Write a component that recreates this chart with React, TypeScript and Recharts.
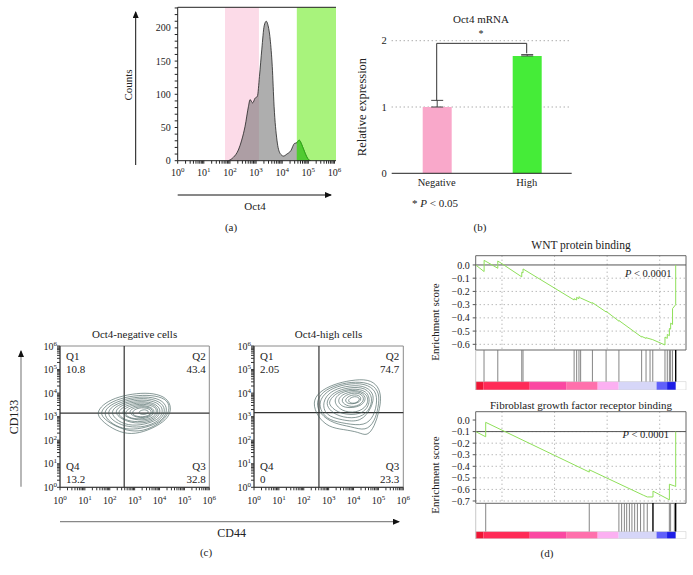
import React from 'react'
import {
  AreaChart, Area, BarChart, Bar, Cell, ErrorBar, LineChart, Line,
  ScatterChart, Scatter, XAxis, YAxis, CartesianGrid, ReferenceArea, ReferenceLine,
} from 'recharts'

const FONT = '"Liberation Serif", "DejaVu Serif", serif'
const INK = '#222'

// ---- (a) Oct4 histogram (x in log10 units) ----
const histLog = [1.94, 2.13, 2.32, 2.45, 2.58, 2.71, 2.77, 2.87, 2.96, 3.05, 3.13, 3.22, 3.31, 3.39, 3.45, 3.54, 3.62, 3.69, 3.8, 3.92, 4.05, 4.18, 4.33, 4.47, 4.56, 4.65, 4.75, 4.88, 5.0, 5.09]
const histCounts = [0, 5, 16, 31, 52, 82, 92, 87, 94, 97, 127, 168, 203, 210, 205, 183, 142, 82, 31, 11, 7, 10, 15, 26, 27, 31, 24, 11, 2, 0]
const negGate = [1.81, 3.11]
const highGate = [4.56, 6.06]
const countTicks = [0, 10, 20, 30, 40, 50, 60, 70, 80, 90, 100, 110, 120, 130, 140, 150, 160, 170, 180, 190, 200, 210, 220, 230]
const decades = [0, 1, 2, 3, 4, 5, 6]
// log10(2..9), for the minor ticks of the log axes
const minorOffsets = [0.301, 0.477, 0.602, 0.699, 0.778, 0.845, 0.903, 0.954]
const logTicks = [...decades, ...decades.slice(0, 6).flatMap((d) => minorOffsets.map((m) => d + m))]

// ---- (b) Oct4 mRNA ----
const mrnaGroups = ['Negative', 'High']
const mrnaMean = [1.0, 1.77]
const mrnaErr = [0.1, 0.02]
const mrnaColors = ['#f9a8ca', '#45ec38']
const sigLevel = 1.96

// ---- (c) CD44 / CD133 contour plots (log10 units) ----
const negQuadGate = { x: 2.58, y: 3.15 }
const highQuadGate = { x: 2.61, y: 3.17 }
const negQuadrants = ['10.8', '43.4', '32.8', '13.2'] // Q1, Q2, Q3, Q4
const highQuadrants = ['2.05', '74.7', '23.3', '0']
const negRings = [
  [[1.47, 3.15], [1.7, 3.5], [2.2, 3.8], [2.9, 3.97], [3.6, 4.02], [4.2, 3.87], [4.47, 3.5], [4.42, 3.05], [4.05, 2.68], [3.35, 2.33], [2.7, 2.24], [2.1, 2.48], [1.65, 2.85]],
  [[1.6, 3.15], [1.85, 3.5], [2.4, 3.78], [3.15, 3.92], [3.85, 3.9], [4.35, 3.7], [4.42, 3.25], [4.15, 2.82], [3.5, 2.42], [2.85, 2.35], [2.2, 2.6], [1.8, 2.88]],
  [[1.72, 3.15], [2.0, 3.5], [2.6, 3.76], [3.4, 3.87], [4.05, 3.75], [4.33, 3.4], [4.22, 2.95], [3.8, 2.65], [3.1, 2.45], [2.5, 2.48], [2.0, 2.75]],
  [[1.85, 3.15], [2.15, 3.5], [2.8, 3.74], [3.55, 3.8], [4.12, 3.6], [4.25, 3.2], [4.0, 2.82], [3.4, 2.55], [2.75, 2.55], [2.2, 2.75]],
  [[1.98, 3.15], [2.3, 3.5], [2.95, 3.7], [3.65, 3.72], [4.15, 3.45], [4.1, 3.0], [3.7, 2.75], [3.05, 2.6], [2.45, 2.7]],
  [[2.12, 3.15], [2.45, 3.5], [3.1, 3.66], [3.75, 3.62], [4.1, 3.3], [3.9, 2.9], [3.35, 2.7], [2.7, 2.75]],
  [[2.25, 3.15], [2.6, 3.48], [3.25, 3.62], [3.85, 3.52], [4.0, 3.15], [3.7, 2.85], [3.1, 2.76], [2.6, 2.85]],
  [[2.4, 3.16], [2.75, 3.47], [3.35, 3.56], [3.9, 3.42], [3.88, 3.05], [3.45, 2.83], [2.85, 2.88]],
  [[2.55, 3.17], [2.9, 3.45], [3.45, 3.5], [3.85, 3.3], [3.7, 2.98], [3.2, 2.88], [2.75, 2.95]],
  [[2.7, 3.18], [3.0, 3.42], [3.55, 3.44], [3.8, 3.22], [3.58, 2.98], [3.1, 2.93]],
  [[2.85, 3.2], [3.15, 3.4], [3.6, 3.36], [3.72, 3.15], [3.45, 2.98], [3.0, 3.0]],
  [[3.15, 3.22], [3.4, 3.33], [3.62, 3.2], [3.42, 3.08], [3.2, 3.1]],
]
const highRings = [
  [[2.35, 3.6], [2.6, 4.05], [3.2, 4.38], [3.9, 4.55], [4.6, 4.6], [5.0, 4.3], [5.12, 3.8], [5.02, 3.2], [4.85, 2.6], [4.55, 2.15], [4.2, 2.35], [3.6, 2.45], [3.0, 2.55], [2.55, 3.0]],
  [[2.48, 3.6], [2.75, 4.07], [3.35, 4.37], [4.1, 4.5], [4.75, 4.4], [5.05, 4.0], [5.0, 3.4], [4.85, 2.8], [4.5, 2.38], [3.9, 2.58], [3.2, 2.7], [2.65, 3.1]],
  [[2.6, 3.62], [2.9, 4.08], [3.5, 4.35], [4.3, 4.45], [4.85, 4.2], [4.97, 3.7], [4.82, 3.0], [4.45, 2.6], [3.7, 2.7], [3.0, 2.85], [2.7, 3.2]],
  [[2.75, 3.63], [3.05, 4.07], [3.65, 4.3], [4.4, 4.35], [4.85, 4.0], [4.75, 3.4], [4.3, 2.75], [3.55, 2.85], [2.85, 3.05]],
  [[2.88, 3.65], [3.2, 4.05], [3.8, 4.25], [4.5, 4.25], [4.8, 3.8], [4.62, 3.2], [4.12, 2.9], [3.4, 3.0], [3.0, 3.3]],
  [[3.0, 3.66], [3.33, 4.05], [3.95, 4.2], [4.55, 4.12], [4.7, 3.6], [4.35, 3.05], [3.45, 3.1], [3.05, 3.45]],
  [[3.15, 3.68], [3.48, 4.05], [4.1, 4.16], [4.6, 3.95], [4.58, 3.45], [4.12, 3.15], [3.5, 3.22]],
  [[3.3, 3.69], [3.63, 4.02], [4.2, 4.1], [4.55, 3.85], [4.35, 3.42], [3.6, 3.33]],
  [[3.45, 3.7], [3.78, 4.0], [4.3, 4.02], [4.48, 3.7], [4.12, 3.4], [3.7, 3.45]],
  [[3.6, 3.71], [3.92, 3.96], [4.32, 3.9], [4.3, 3.6], [3.8, 3.5]],
  [[3.75, 3.72], [4.05, 3.9], [4.32, 3.76], [4.08, 3.55], [3.85, 3.58]],
]

// ---- (d) GSEA running enrichment scores (rank as % of list) ----
const wntRank = [0, 4.0, 4.0, 10.5, 10.5, 21.9, 21.9, 22.5, 22.5, 46.8, 46.8, 48.0, 48.0, 49.1, 49.1, 49.9, 55.5, 55.5, 62.0, 62.0, 68.1, 68.1, 78.9, 78.9, 81.0, 81.0, 84.2, 90.0, 90.0, 91.1, 91.1, 92.1, 92.1, 92.7, 92.7, 93.6, 93.6, 94.6, 95.1, 95.1]
const wntES = [0, -0.05, 0.035, -0.025, 0.03, -0.09, -0.055, -0.06, -0.03, -0.265, -0.255, -0.265, -0.245, -0.255, -0.24, -0.25, -0.29, -0.285, -0.355, -0.35, -0.425, -0.42, -0.545, -0.54, -0.555, -0.55, -0.565, -0.605, -0.545, -0.555, -0.525, -0.535, -0.48, -0.485, -0.44, -0.45, -0.33, -0.31, -0.3, 0]
const wntHits = [3.96, 10.5, 21.9, 22.5, 46.8, 48.0, 49.1, 49.9, 55.5, 62.0, 68.1, 78.9, 81.0, 82.9, 84.2, 90.0, 91.1, 92.1, 92.7, 93.6, 95.1]
const wntDarkHits = [95.1]
const fgfRank = [0, 4.75, 4.75, 54.0, 54.0, 79.7, 81.6, 84.3, 84.3, 92.1, 92.1, 94.5, 95.1, 95.1]
const fgfES = [-0.1, -0.145, -0.02, -0.45, -0.43, -0.65, -0.665, -0.665, -0.615, -0.69, -0.555, -0.57, -0.575, -0.1]
const fgfHits = [4.75, 54.0, 68.1, 69.4, 70.7, 71.8, 73.1, 74.3, 75.6, 76.9, 78.4, 80.0, 81.6, 84.3, 92.1, 92.7, 94.5, 95.1]
const fgfDarkHits = [84.3, 95.1]
const wntTicks = [0, -0.1, -0.2, -0.3, -0.4, -0.5, -0.6]
const fgfTicks = [0, -0.1, -0.2, -0.3, -0.4, -0.5, -0.6, -0.7]
const rankGrid = [12.5, 25, 37.5, 50, 62.5, 75, 87.5]
const rankBandEdges = [0, 3.6, 25.7, 43, 58, 68, 86, 91, 95.1]
const rankBandColors = ['#ee1535', '#ff2b57', '#fb48a2', '#ff70ac', '#fcb0f2', '#d6d6f8', '#6060fa', '#1e1ee6']

const PowTickX = (props: any) => {
  const { x, y, payload } = props
  if (!Number.isInteger(payload.value)) return <g />
  return (
    <text x={x} y={y} dy="0.71em" textAnchor="middle" fontSize={10} fill={INK} fontFamily={FONT}>
      10<tspan dy={-4} fontSize={7}>{payload.value}</tspan>
    </text>
  )
}

const PowTickY = (props: any) => {
  const { x, y, payload } = props
  if (!Number.isInteger(payload.value)) return <g />
  return (
    <text x={x} y={y} dy="0.35em" textAnchor="end" fontSize={10} fill={INK} fontFamily={FONT}>
      10<tspan dy={-4} fontSize={7}>{payload.value}</tspan>
    </text>
  )
}

const CountTick = (props: any) => {
  const { x, y, payload } = props
  if (payload.value % 50 !== 0) return <g />
  return (
    <text x={x} y={y} dy="0.35em" textAnchor="end" fontSize={10} fill={INK} fontFamily={FONT}>
      {payload.value}
    </text>
  )
}

const noDot = () => <g />

const esTick = (v: number) => (v === 0 ? '0.0' : `\u2212${Math.abs(v).toFixed(1)}`)

function T({ x, y, children, size = 11, anchor = 'middle', rotate = false }: any) {
  const tx = anchor === 'start' ? '0' : anchor === 'end' ? '-100%' : '-50%'
  return (
    <div
      style={{
        position: 'absolute', left: x, top: y, fontSize: size, lineHeight: 1, whiteSpace: 'nowrap',
        transform: `translate(${tx}, -50%)${rotate ? ' rotate(-90deg)' : ''}`, color: INK,
      }}
    >
      {children}
    </div>
  )
}

function PanelA() {
  const data = histLog.map((x, i) => ({ x, count: histCounts[i], high: x >= highGate[0] ? histCounts[i] : null }))
  return (
    <div style={{ position: 'absolute', left: 120, top: 0 }}>
      <AreaChart width={230} height={200} data={data} margin={{ top: 7.3, right: 14, bottom: 9.3, left: 17.7 }}>
        <XAxis dataKey="x" type="number" domain={[0, 6.06]} ticks={logTicks} tick={PowTickX} height={30}
          tickSize={3} tickMargin={5} stroke={INK} interval={0} allowDataOverflow />
        <YAxis domain={[0, 231]} ticks={countTicks} tick={CountTick} width={40} tickSize={3} tickMargin={4}
          stroke={INK} interval={0} allowDataOverflow />
        <ReferenceArea x1={negGate[0]} x2={negGate[1]} fill="#fcdbe8" fillOpacity={1} stroke="none" zIndex={50} />
        <ReferenceArea x1={highGate[0]} x2={highGate[1]} fill="#a8f37c" fillOpacity={1} stroke="none" zIndex={50} />
        <Area dataKey="count" type="monotone" stroke="#222" strokeWidth={0.8} fill="#6c6c6c" fillOpacity={0.55}
          isAnimationActive={false} />
        <Area dataKey="high" type="monotone" stroke="#2cbf12" strokeWidth={0.8} fill="#3fd61c" fillOpacity={0.75}
          isAnimationActive={false} />
        <ReferenceLine y={231} stroke={INK} />
      </AreaChart>
    </div>
  )
}

function PanelB() {
  const data = mrnaGroups.map((group, i) => ({ group, mean: mrnaMean[i], err: [0, mrnaErr[i]] }))
  const negTop = mrnaMean[0] + mrnaErr[0]
  const highTop = mrnaMean[1] + mrnaErr[1]
  return (
    <div style={{ position: 'absolute', left: 340, top: 0 }}>
      <BarChart width={250} height={200} data={data} margin={{ top: 40.7, right: 18.3, bottom: 6.7, left: 21.7 }}>
        <CartesianGrid vertical={false} horizontalValues={[1, 2]} strokeDasharray="1 3" stroke="#888" />
        <XAxis dataKey="group" tickLine={false} tickSize={0} tickMargin={5} stroke={INK} height={20}
          tick={{ fontSize: 10.5, fill: INK, fontFamily: FONT }} />
        <YAxis domain={[0, 2]} ticks={[0, 1, 2]} axisLine={false} tickLine={false} tickSize={3} width={30}
          tick={{ fontSize: 10.5, fill: INK, fontFamily: FONT }} interval={0} />
        <Bar dataKey="mean" barSize={29} isAnimationActive={false}>
          {data.map((d, i) => <Cell key={d.group} fill={mrnaColors[i]} />)}
          <ErrorBar dataKey="err" width={6} stroke="#444" strokeWidth={1} direction="y" />
        </Bar>
        <ReferenceLine segment={[{ x: 'Negative', y: sigLevel }, { x: 'High', y: sigLevel }]} stroke="#333" />
        <ReferenceLine segment={[{ x: 'Negative', y: negTop }, { x: 'Negative', y: sigLevel }]} stroke="#333" />
        <ReferenceLine segment={[{ x: 'High', y: highTop + 0.02 }, { x: 'High', y: sigLevel }]} stroke="#333" />
      </BarChart>
    </div>
  )
}

function FlowPlot({ left, marginLeft, marginRight, rings, gate }: any) {
  return (
    <div style={{ position: 'absolute', left, top: 330 }}>
      <ScatterChart width={220} height={190} margin={{ top: 16, right: marginRight, bottom: 7.7, left: marginLeft }}>
        <XAxis type="number" dataKey="x" domain={[0, 6]} ticks={logTicks} tick={PowTickX} height={25}
          tickSize={3} tickMargin={7} stroke="#333" interval={0} allowDataOverflow />
        <YAxis type="number" dataKey="y" domain={[0, 6]} ticks={logTicks} tick={PowTickY} width={30}
          tickSize={3} tickMargin={0} stroke="#333" interval={0} allowDataOverflow />
        <ReferenceArea x1={0} x2={6} y1={0} y2={6} fill="none" stroke="#8a8a8a" />
        {rings.map((ring: number[][], i: number) => (
          <Scatter key={i} data={ring.map(([x, y]) => ({ x, y }))} line={{ stroke: '#46625f', strokeWidth: 0.65 }}
            lineJointType="basisClosed" shape={noDot} isAnimationActive={false} />
        ))}
        <ReferenceLine x={gate.x} stroke="#333" strokeWidth={1.2} />
        <ReferenceLine y={gate.y} stroke="#333" strokeWidth={1.2} />
      </ScatterChart>
    </div>
  )
}

function EsChart({ top, height, marginTop, marginBottom, rank, es, domain, ticks, baseline }: any) {
  const data = rank.map((r: number, i: number) => ({ r, es: es[i] }))
  return (
    <div style={{ position: 'absolute', left: 430, top }}>
      <LineChart width={263} height={height} data={data} margin={{ top: marginTop, right: 7, bottom: marginBottom, left: 5.7 }}>
        <CartesianGrid horizontalValues={ticks.filter((t: number) => t !== 0)} verticalValues={rankGrid}
          strokeDasharray="1 3" stroke="#9a9a9a" />
        <XAxis hide type="number" dataKey="r" domain={[0, 100]} ticks={rankGrid} allowDataOverflow />
        <YAxis domain={domain} ticks={ticks} tickFormatter={esTick} axisLine={false} tickSize={3} tickMargin={3}
          width={40} stroke="#555" tick={{ fontSize: 10, fill: INK, fontFamily: FONT }} interval={0} allowDataOverflow />
        <ReferenceArea x1={0} x2={100} y1={domain[0]} y2={domain[1]} fill="none" stroke="#666" />
        <ReferenceLine y={baseline} stroke="#555" strokeWidth={1} />
        <Line dataKey="es" type="linear" stroke="#8fdf5a" strokeWidth={1} dot={false} isAnimationActive={false} />
      </LineChart>
    </div>
  )
}

function HitStrip({ top, height, hits, darkHits, barFrac }: any) {
  const data = hits.map((r: number) => ({ r }))
  return (
    <div style={{ position: 'absolute', left: 430, top }}>
      <LineChart width={263} height={height} data={data} margin={{ top: 0, right: 7, bottom: 0, left: 45.7 }}>
        <XAxis hide type="number" dataKey="r" domain={[0, 100]} allowDataOverflow />
        <YAxis hide domain={[0, 1]} allowDataOverflow />
        <ReferenceLine x={0} stroke="#c8c8c8" />
        {rankBandColors.map((c, i) => (
          <ReferenceArea key={c} x1={rankBandEdges[i]} x2={rankBandEdges[i + 1]} y1={0} y2={barFrac}
            fill={c} fillOpacity={1} stroke="none" />
        ))}
        <ReferenceArea x1={0} x2={100} y1={0} y2={barFrac} fill="none" stroke="#d0d0d0" strokeWidth={0.6} />
        {hits.map((r: number, i: number) => (
          <ReferenceLine key={i} segment={[{ x: r, y: barFrac }, { x: r, y: 1 }]}
            stroke={darkHits.includes(r) ? '#000' : '#777'} strokeWidth={darkHits.includes(r) ? 1.4 : 0.9} />
        ))}
      </LineChart>
    </div>
  )
}

function Arrows() {
  return (
    <svg width={693} height={575} style={{ position: 'absolute', left: 0, top: 0, pointerEvents: 'none' }}>
      <defs>
        <marker id="ah" markerUnits="userSpaceOnUse" markerWidth={8} markerHeight={8} refX={6} refY={3} orient="auto">
          <path d="M0,0 L7,3 L0,6 z" fill="#111" />
        </marker>
      </defs>
      <line x1={135.7} y1={165} x2={135.7} y2={12} stroke="#111" strokeWidth={1} markerEnd="url(#ah)" />
      <line x1={177.7} y1={195} x2={331} y2={195} stroke="#111" strokeWidth={1} markerEnd="url(#ah)" />
      <line x1={21} y1={486.7} x2={21} y2={351} stroke="#888" strokeWidth={1.2} markerEnd="url(#ah)" />
      <line x1={60} y1={521.7} x2={399} y2={521.7} stroke="#888" strokeWidth={1.2} markerEnd="url(#ah)" />
    </svg>
  )
}

export default function App() {
  return (
    <div style={{ position: 'absolute', left: 0, top: 0, width: 693, height: 575, background: '#fff',
      fontFamily: FONT, color: INK, overflow: 'hidden' }}>
      <PanelA />
      <PanelB />
      <FlowPlot left={0} marginLeft={30} marginRight={10.7} rings={negRings} gate={negQuadGate} />
      <FlowPlot left={200} marginLeft={24} marginRight={16.7} rings={highRings} gate={highQuadGate} />
      <EsChart top={240} height={120} marginTop={15.7} marginBottom={10} rank={wntRank} es={wntES}
        domain={[-0.643, 0.07]} ticks={wntTicks} baseline={0} />
      <HitStrip top={350} height={40} hits={wntHits} darkHits={wntDarkHits} barFrac={0.21} />
      <EsChart top={400} height={110} marginTop={11.7} marginBottom={6.7} rank={fgfRank} es={fgfES}
        domain={[-0.72, 0.072]} ticks={fgfTicks} baseline={-0.1} />
      <HitStrip top={503.3} height={35.7} hits={fgfHits} darkHits={fgfDarkHits} barFrac={0.2} />
      <Arrows />

      {/* (a) */}
      <T x={128} y={85} rotate>Counts</T>
      <T x={255} y={206}>Oct4</T>
      <T x={231} y={227}>(a)</T>

      {/* (b) */}
      <T x={481} y={18.5}>Oct4 mRNA</T>
      <T x={481} y={34} size={10}>*</T>
      <T x={362} y={107} size={12.5} rotate>Relative expression</T>
      <T x={412} y={203} anchor="start">* <i>P</i> &lt; 0.05</T>
      <T x={480} y={227}>(b)</T>

      {/* (c) */}
      <T x={134.6} y={334}>Oct4-negative cells</T>
      <T x={328.6} y={334}>Oct4-high cells</T>
      <T x={66} y={356} anchor="start">Q1</T>
      <T x={66} y={369.3} anchor="start">{negQuadrants[0]}</T>
      <T x={205.7} y={356} anchor="end">Q2</T>
      <T x={205.7} y={369.3} anchor="end">{negQuadrants[1]}</T>
      <T x={205.7} y={466} anchor="end">Q3</T>
      <T x={205.7} y={479.3} anchor="end">{negQuadrants[2]}</T>
      <T x={66} y={466} anchor="start">Q4</T>
      <T x={66} y={479.3} anchor="start">{negQuadrants[3]}</T>
      <T x={260} y={356} anchor="start">Q1</T>
      <T x={260} y={369.3} anchor="start">{highQuadrants[0]}</T>
      <T x={399.3} y={356} anchor="end">Q2</T>
      <T x={399.3} y={369.3} anchor="end">{highQuadrants[1]}</T>
      <T x={399.3} y={466} anchor="end">Q3</T>
      <T x={399.3} y={479.3} anchor="end">{highQuadrants[2]}</T>
      <T x={260} y={466} anchor="start">Q4</T>
      <T x={260} y={479.3} anchor="start">{highQuadrants[3]}</T>
      <T x={13.5} y={417} size={12} rotate>CD133</T>
      <T x={231.7} y={533} size={12}>CD44</T>
      <T x={206} y={552}>(c)</T>

      {/* (d) */}
      <T x={581} y={246} size={11.5}>WNT protein binding</T>
      <T x={671.5} y={273.5} size={10.5} anchor="end"><i>P</i> &lt; 0.0001</T>
      <T x={435} y={322} rotate>Enrichment score</T>
      <T x={581} y={405} size={11}>Fibroblast growth factor receptor binding</T>
      <T x={669} y={434.5} size={10.5} anchor="end"><i>P</i> &lt; 0.0001</T>
      <T x={435} y={475} rotate>Enrichment score</T>
      <T x={547} y={553}>(d)</T>
    </div>
  )
}
